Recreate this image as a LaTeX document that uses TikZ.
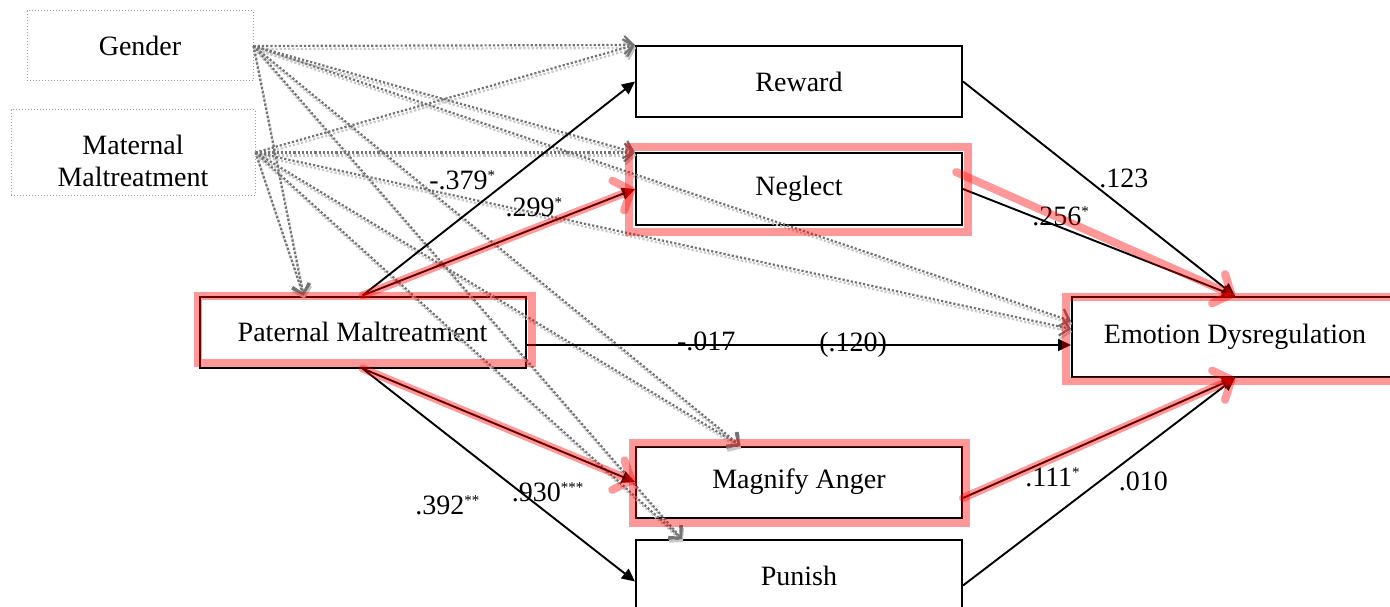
\documentclass[tikz,border=0pt]{standalone}
\usepackage{fontspec}
\setmainfont{Liberation Serif}
\usetikzlibrary{positioning, arrows.meta}

\newcommand{\sig}[1]{\textsuperscript{\fontsize{15}{15}\selectfont #1}}
\newcommand{\covlinks}{
  (gender.east) edge (reward.north west)
  (gender.east) edge (neglect.north west)
  (gender.east) edge ([xshift=105pt]paternal.north west)
  (gender.east) edge ([yshift=16pt]ed.west)
  (gender.east) edge ([xshift=105pt]magnify.north west)
  (gender.east) edge ([xshift=47pt]punish.north west)
  (maternal.east) edge (reward.north west)
  (maternal.east) edge (neglect.north west)
  (maternal.east) edge ([xshift=105pt]paternal.north west)
  (maternal.east) edge ([yshift=8pt]ed.west)
  (maternal.east) edge ([xshift=105pt]magnify.north west)
  (maternal.east) edge ([xshift=47pt]punish.north west)
}

\tikzset{
  mainbox/.style={draw, line width=2pt, minimum width=326pt, minimum height=71pt, inner sep=0pt},
  covbox/.style={draw=gray!80, dotted, line width=1pt, inner sep=0pt, align=center},
  effect/.style={line width=1.9pt, -{Triangle[length=13pt,width=12pt]}},
  covar/.style={black!55, dotted, line width=2.2pt, -{Straight Barb[length=9pt,width=18pt]}},
  covshadow/.style={covar, black!22},
  hilite/.style={draw=red, draw opacity=0.4, line width=8pt},
  hiliteto/.style={hilite, line cap=round, -{Straight Barb[round,length=14pt,width=32pt]}},
  coef/.style={inner sep=1pt}
}

\begin{document}
\begin{tikzpicture}[x=1pt, y=-1pt, on grid, font=\fontsize{28}{32}\selectfont]
\useasboundingbox (0,0) rectangle (1390,607);
\clip (0,0) rectangle (1390,607);

% covariates
\node[covbox, minimum width=226pt, minimum height=70pt] (gender) at (140,46) {Gender};
\node[covbox, minimum width=244pt, minimum height=85pt] (maternal) at (133,152.5) {\rule{0pt}{37pt}Maternal\\Maltreatment};

% model
\node[mainbox] (paternal) at (362.5,332) {Paternal Maltreatment};
\node[mainbox] (reward) at (799,81.5) {Reward};
\node[mainbox] (neglect) [below=107.5pt of reward] {Neglect};
\node[mainbox] (magnify) [below=293pt of neglect] {Magnify Anger};
\node[mainbox] (punish) [below=93.5pt of magnify] {Punish};
\node[mainbox, minimum height=80pt] (ed) [right=872.5pt of paternal, yshift=-5pt] {Emotion Dysregulation};

% control paths
\path[covshadow, transform canvas={shift={(1pt,-3pt)}}] \covlinks;
\path[covar] \covlinks;

% a paths
\path[effect]
  (paternal.north) edge node[coef, pos=0.54, left=12pt] {-.379\sig{*}} (reward.west)
  (paternal.north) edge node[coef, pos=0.63, above=10pt] {.299\sig{*}} (neglect.west)
  (paternal.south) edge node[coef, pos=0.68, below=35pt] {.930\sig{***}} (magnify.west)
  (paternal.south) edge node[coef, pos=0.64, left=55pt] {.392\sig{**}} ([yshift=-6pt]punish.west);

% b paths and direct path
\path[effect]
  (reward.east) edge node[coef, pos=0.45, right=12pt] {.123} (ed.north)
  (neglect.east) edge node[coef, pos=0.36, above=0pt] {.256\sig{*}} (ed.north)
  ([yshift=-16pt]magnify.east) edge node[coef, pos=0.33, below=7pt] {.111\sig{*}} (ed.south)
  ([yshift=-10pt]punish.east) edge node[coef, pos=0.5, right=18pt] {.010} (ed.south)
  ([yshift=-13pt]paternal.east) edge node[coef, pos=0.33, yshift=4pt] {-.017}
                                     node[coef, pos=0.6] {(.120)} ([yshift=-8pt]ed.west);

% highlighted route
\draw[hilite] ([shift={(-1pt,0pt)}]paternal.north west) rectangle ([shift={(5pt,6pt)}]paternal.south east);
\draw[hilite] ([shift={(-6pt,5pt)}]neglect.north west) rectangle ([shift={(5pt,-6pt)}]neglect.south east);
\draw[hilite] ([shift={(-2pt,3pt)}]magnify.north west) rectangle ([shift={(3pt,-4pt)}]magnify.south east);
\draw[hilite] ([shift={(-5pt,-1pt)}]ed.north west) rectangle ([shift={(2pt,-3pt)}]ed.south east);
\draw[hiliteto] (paternal.north) -- (neglect.west);
\draw[hiliteto] (paternal.south) -- (magnify.west);
\draw[hiliteto] ([shift={(-7pt,17pt)}]neglect.east) -- (ed.north);
\draw[hiliteto] ([yshift=-16pt]magnify.east) -- (ed.south);
\end{tikzpicture}
\end{document}
